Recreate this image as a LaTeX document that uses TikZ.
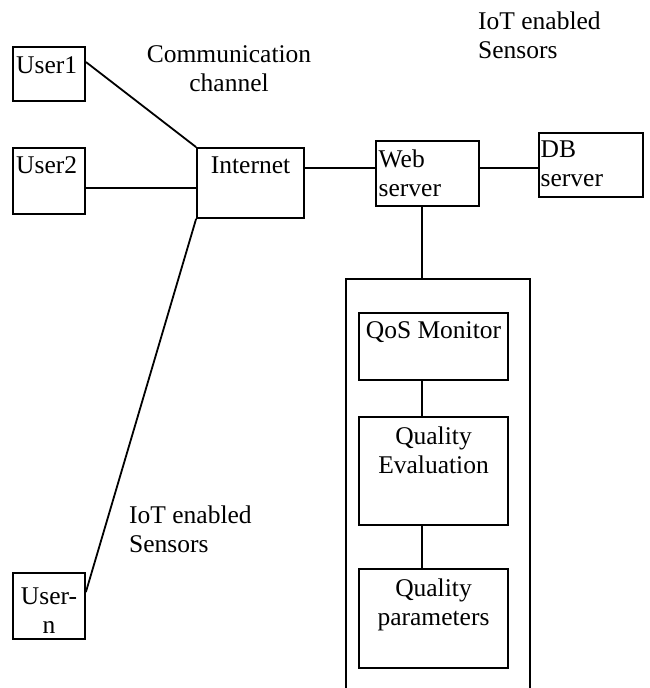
\documentclass[tikz,border=0pt]{standalone}
\usepackage{fontspec}
\setmainfont{Liberation Serif}
\usepackage{tikz}

\tikzset{
  box/.style={draw=black, line width=1.8pt, rectangle, inner sep=0pt},
  txt/.style={inner sep=0pt, font=\fontsize{25.5}{29}\selectfont},
  link/.style={draw=black, line width=1.8pt}
}

\begin{document}
\begin{tikzpicture}[x=1pt,y=-1pt]
    \useasboundingbox (0,0) rectangle (649,688);
    \clip (0,0) rectangle (649,688);

    % users on the left
    \node[box, minimum width=72, minimum height=54] (user1) at (49,74) {};
    \node[box, minimum width=72, minimum height=66] (user2) at (49,181) {};
    \node[box, minimum width=72, minimum height=66] (usern) at (49,606) {};
    \node[txt, anchor=north west] (user1t) at (16,56) {User1};
    \node[txt, anchor=north west] (user2t) at (16,156) {User2};
    \node[txt, anchor=north, align=center] (usernt) at (49,588) {User-\\n};

    % internet and servers
    \node[box, minimum width=107, minimum height=70] (inet) at (250.5,183) {};
    \node[box, minimum width=103, minimum height=65] (web) at (427.5,173.5) {};
    \node[box, minimum width=104, minimum height=64] (db) at (591,165) {};
    \node[txt, anchor=north] (inett) at (250.5,157) {Internet};
    \node[txt, anchor=north west, align=left] (webt) at (378.5,150) {Web\\server};
    \node[txt, anchor=north west, align=left] (dbt) at (540.5,141) {DB\\server};

    % quality block under the web server
    \node[box, minimum width=184, minimum height=431] (frame) at (438,494.5) {};
    \node[box, minimum width=149, minimum height=67] (qos) at (433.5,346.5) {};
    \node[box, minimum width=149, minimum height=108] (qeval) at (433.5,471) {};
    \node[box, minimum width=149, minimum height=99] (qpar) at (433.5,618.5) {};
    \node[txt, anchor=north] (qost) at (433.5,321) {QoS Monitor};
    \node[txt, anchor=north, align=center] (qevalt) at (433.5,427) {Quality\\Evaluation};
    \node[txt, anchor=north, align=center] (qpart) at (433.5,579) {Quality\\parameters};

    % free labels
    \node[txt, anchor=north, align=center] (chan) at (229,45) {Communication\\channel};
    \node[txt, anchor=north west, align=left] (iot1) at (478,12) {IoT enabled\\Sensors};
    \node[txt, anchor=north west, align=left] (iot2) at (129,506) {IoT enabled\\Sensors};

    % links
    \coordinate (u1r) at ([yshift=12pt]user1.east);
    \coordinate (u2r) at ([yshift=-7pt]user2.east);
    \coordinate (unr) at ([yshift=14pt]usern.east);
    \coordinate (inr) at ([yshift=15pt]inet.east);
    \coordinate (spine) at (422,0);
    \draw[link] (u1r) -- (inet.north west);
    \draw[link] (u2r) -- (u2r -| inet.west);
    \draw[link] (unr) -- (inet.south west);
    \draw[link] (inr) -- (inr -| web.west);
    \draw[link] (inr -| web.east) -- (inr -| db.west);
    \draw[link] (web.south -| spine) -- (frame.north -| spine);
    \draw[link] (qos.south -| spine) -- (qeval.north -| spine);
    \draw[link] (qeval.south -| spine) -- (qpar.north -| spine);
\end{tikzpicture}
\end{document}
